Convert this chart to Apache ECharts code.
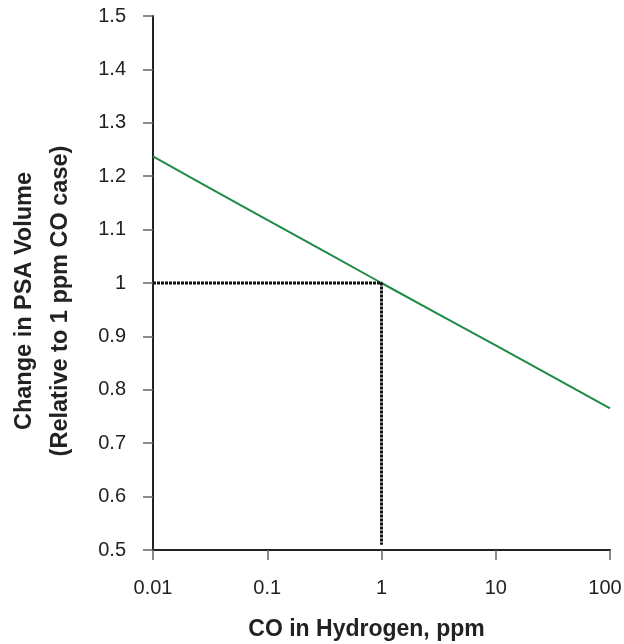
<!DOCTYPE html>
<html>
<head>
<meta charset="utf-8">
<script src="https://cdn.jsdelivr.net/npm/echarts@6/dist/echarts.min.js"></script>
<style>
    html, body { margin: 0; padding: 0; background: #fff; }
    #chart { width: 624px; height: 644px; }
</style>
</head>
<body>
<div id="chart"></div>
<script>
// CO in hydrogen (ppm) vs relative PSA volume
var coPpm = [0.01, 0.03, 0.1, 0.3, 1, 3, 10, 30, 100];
var psaVolume = [1.237, 1.180, 1.118, 1.062, 1.0, 0.944, 0.883, 0.827, 0.765];
// dotted reference lines through the 1 ppm case
var refX = [0.01, 1, 1];
var refY = [1, 1, 0.51];

var chart = echarts.init(document.getElementById('chart'));
var font = 'Liberation Sans, Arial, sans-serif';

option = {
    animation: false,
    grid: {
        left: 153,
        right: 14,
        top: 16,
        bottom: 94,
        outerBoundsMode: 'none',
        containLabel: false
    },
    xAxis: {
        type: 'log',
        logBase: 10,
        min: 0.01,
        max: 100,
        name: 'CO in Hydrogen, ppm',
        nameLocation: 'middle',
        nameGap: 68,
        nameTextStyle: {
            fontFamily: font,
            fontSize: 23,
            fontWeight: 'bold',
            color: '#222',
            padding: [0, 30, 0, 0]
        },
        axisLine: { onZero: false, lineStyle: { color: '#222', width: 2 } },
        axisTick: { show: true, length: 10, inside: false, lineStyle: { color: '#666', width: 1.5 } },
        minorTick: { show: false },
        splitLine: { show: false },
        axisLabel: {
            fontFamily: font,
            fontSize: 20,
            color: '#222',
            margin: 28,
            formatter: function (v) {
                var s = String(+v.toPrecision(3));
                // last label sits a little left so it stays inside the picture
                return v >= 100 ? '{r|' + s + '}' : s;
            },
            rich: {
                r: { fontFamily: font, fontSize: 20, color: '#222', padding: [0, 10, 0, 0] }
            }
        }
    },
    yAxis: {
        type: 'value',
        min: 0.5,
        max: 1.5,
        interval: 0.1,
        name: 'Change in PSA Volume\n(Relative to 1 ppm CO case)',
        nameLocation: 'middle',
        nameGap: 74,
        nameTextStyle: {
            fontFamily: font,
            fontSize: 23.5,
            fontWeight: 'bold',
            color: '#222',
            lineHeight: 36,
            padding: [0, 36, 0, 0]
        },
        axisLine: { show: true, lineStyle: { color: '#222', width: 2 } },
        axisTick: { show: true, length: 10, lineStyle: { color: '#666', width: 1.5 } },
        splitLine: { show: false },
        axisLabel: {
            fontFamily: font,
            fontSize: 20,
            color: '#222',
            margin: 27,
            formatter: function (v) {
                return String(+v.toFixed(1));
            }
        }
    },
    series: [
        {
            name: 'PSA volume',
            type: 'line',
            data: coPpm.map(function (x, i) { return [x, psaVolume[i]]; }),
            showSymbol: false,
            smooth: false,
            lineStyle: { color: '#1e8a48', width: 2 }
        },
        {
            name: 'reference',
            type: 'line',
            data: refX.map(function (x, i) { return [x, refY[i]]; }),
            showSymbol: false,
            lineStyle: { color: '#111', width: 3, type: [3, 1] }
        }
    ]
};

chart.setOption(option);
</script>
</body>
</html>
